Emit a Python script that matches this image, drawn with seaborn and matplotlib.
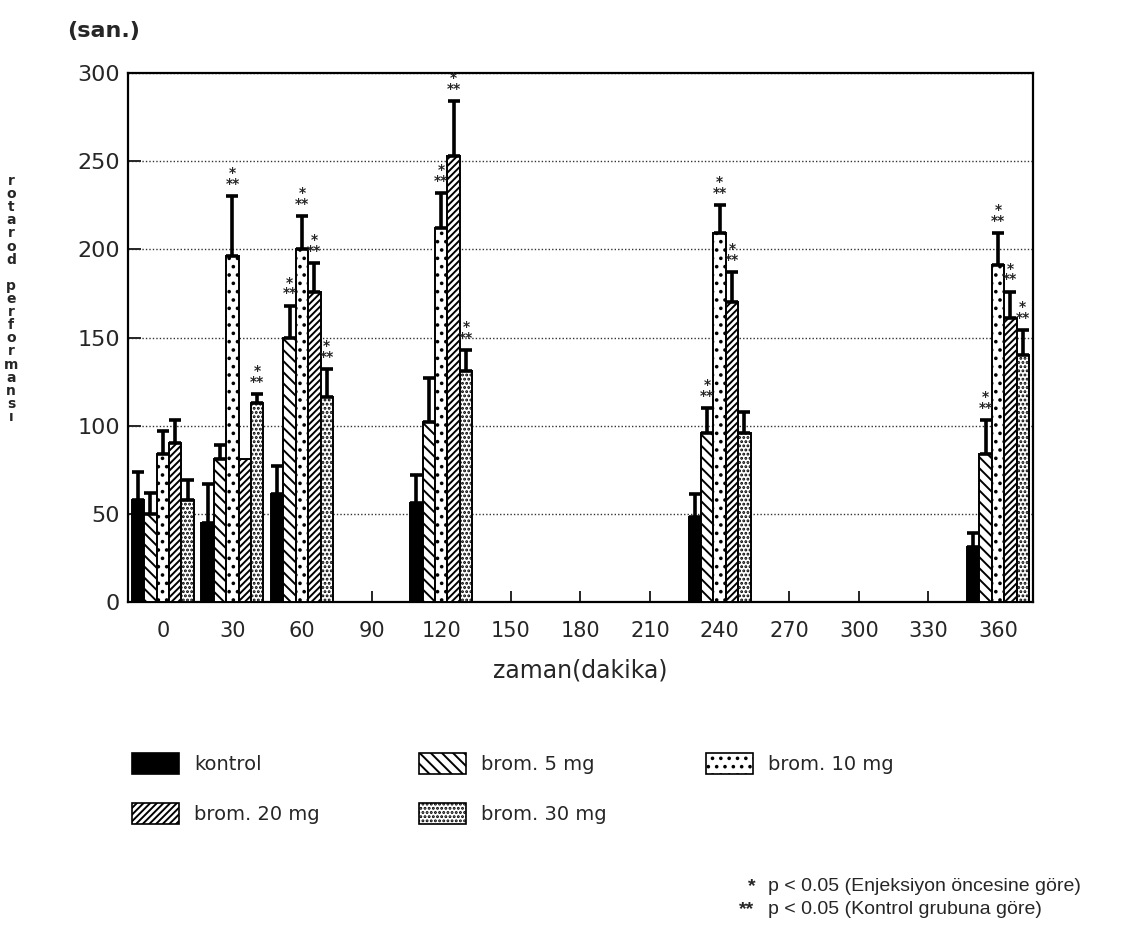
import matplotlib
matplotlib.use("Agg")
import matplotlib.pyplot as plt
from matplotlib.patches import Patch
import numpy as np
import pandas as pd
import seaborn as sns

# ---- data ----
slot_labels = ["0", "30", "60", "90", "120", "150", "180", "210", "240", "270", "300", "330", "360"]
times = ["0", "30", "60", "120", "240", "360"]
groups = ["kontrol", "brom. 5 mg", "brom. 10 mg", "brom. 20 mg", "brom. 30 mg"]

kontrol = [58, 45, 61, 56, 48, 31]
kontrol_err = [16, 22, 16, 16, 13, 8]
brom5 = [50, 81, 150, 102, 96, 84]
brom5_err = [12, 8, 18, 25, 14, 19]
brom10 = [84, 196, 200, 212, 209, 191]
brom10_err = [13, 34, 19, 20, 16, 18]
brom20 = [90, 81, 176, 253, 170, 161]
brom20_err = [13, 0, 16, 31, 17, 15]
brom30 = [58, 113, 116, 131, 96, 140]
brom30_err = [11, 5, 16, 12, 12, 14]

kontrol_sig = [0, 0, 0, 0, 0, 0]
brom5_sig = [0, 0, 1, 0, 1, 1]
brom10_sig = [0, 1, 1, 1, 1, 1]
brom20_sig = [0, 0, 1, 1, 1, 1]
brom30_sig = [0, 1, 1, 1, 0, 1]

values = [kontrol, brom5, brom10, brom20, brom30]
errors = [kontrol_err, brom5_err, brom10_err, brom20_err, brom30_err]
sigs = [kontrol_sig, brom5_sig, brom10_sig, brom20_sig, brom30_sig]

rows = []
for g, vals in zip(groups, values):
    for t, v in zip(times, vals):
        rows.append({"zaman": t, "grup": g, "deger": v})
df = pd.DataFrame(rows)

# ---- style ----
sns.set_style("ticks")
plt.rcParams["font.family"] = ["DejaVu Sans"]
plt.rcParams["hatch.linewidth"] = 1.4
plt.rcParams["hatch.color"] = "black"

fig = plt.figure(figsize=(11.25, 9.4), dpi=100)
ax = fig.add_axes([0.1138, 0.3596, 0.918 - 0.1138, 0.9223 - 0.3596])

palette = {"kontrol": "black", "brom. 5 mg": "white", "brom. 10 mg": "white",
           "brom. 20 mg": "white", "brom. 30 mg": "white"}
hatches = {"kontrol": "", "brom. 5 mg": "\\\\\\", "brom. 10 mg": "..",
           "brom. 20 mg": "/////", "brom. 30 mg": "...."}

sns.barplot(data=df, x="zaman", y="deger", hue="grup", order=slot_labels,
            hue_order=groups, palette=palette, width=0.89, errorbar=None,
            edgecolor="black", linewidth=1.4, legend=False, ax=ax, zorder=3)

bar_conts = list(ax.containers)
for gi, cont in enumerate(bar_conts):
    g = groups[gi]
    for bar in cont:
        if np.isnan(bar.get_height()):
            continue
        bar.set_hatch(hatches[g])
        cx = bar.get_x() + bar.get_width() / 2
        slot = int(round(cx))
        t = slot_labels[slot]
        if t not in times:
            continue
        ti = times.index(t)
        v = values[gi][ti]
        e = errors[gi][ti]
        top = v
        if e > 0:
            ax.errorbar([cx], [v], yerr=[[0], [e]], fmt="none", ecolor="black",
                        elinewidth=2.6, capsize=4, capthick=2.6, zorder=4)
            top = v + e
        if sigs[gi][ti]:
            ax.text(cx, top + 3, "*\n**", ha="center", va="bottom", fontsize=10,
                    fontweight="bold", linespacing=0.7, zorder=5)

ax.set_ylim(0, 300)
ax.set_xlim(-0.5, 12.5)
ax.set_yticks([0, 50, 100, 150, 200, 250, 300])
ax.yaxis.grid(True, linestyle=(0, (1, 1.5)), color="#333333", linewidth=1.0, zorder=0)
ax.xaxis.grid(False)
for s in ax.spines.values():
    s.set_visible(True)
    s.set_linewidth(1.6)
    s.set_color("black")
ax.tick_params(axis="y", direction="in", length=9, width=1.4, labelsize=16, pad=6)
ax.tick_params(axis="x", direction="in", length=8, width=1.4, labelsize=15, pad=14)
ax.set_xlabel("zaman(dakika)", fontsize=17, labelpad=12)
ax.set_ylabel("")

# y-axis label, stacked letters
fig.text(0.0098, 0.815, "r\no\nt\na\nr\no\nd\n \np\ne\nr\nf\no\nr\nm\na\nn\ns\nı",
         ha="center", va="top", fontsize=10, fontweight="bold", linespacing=0.92)
fig.text(0.06, 0.978, "(san.)", ha="left", va="top", fontsize=16, fontweight="bold")

# legend
handles = {g: Patch(facecolor=palette[g], edgecolor="black", hatch=hatches[g], linewidth=1.2)
           for g in groups}
order = ["kontrol", "brom. 20 mg", "brom. 5 mg", "brom. 30 mg", "brom. 10 mg"]
fig.legend([handles[g] for g in order], order, loc="upper left",
           bbox_to_anchor=(0.102, 0.218), ncol=3, frameon=False, fontsize=14,
           handlelength=2.4, handleheight=1.3, handletextpad=0.8,
           columnspacing=5.1, labelspacing=1.5)

# footnotes
fn_font = ["Liberation Sans", "DejaVu Sans"]
fig.text(0.665, 0.057, "*", fontsize=14, fontweight="bold", family=fn_font, va="center")
fig.text(0.683, 0.057, "p < 0.05 (Enjeksiyon öncesine göre)", fontsize=14,
         family=fn_font, va="center")
fig.text(0.657, 0.032, "**", fontsize=14, fontweight="bold", family=fn_font, va="center")
fig.text(0.683, 0.032, "p < 0.05 (Kontrol grubuna göre)", fontsize=14,
         family=fn_font, va="center")

fig.savefig("out.png", dpi=100, facecolor="white")
